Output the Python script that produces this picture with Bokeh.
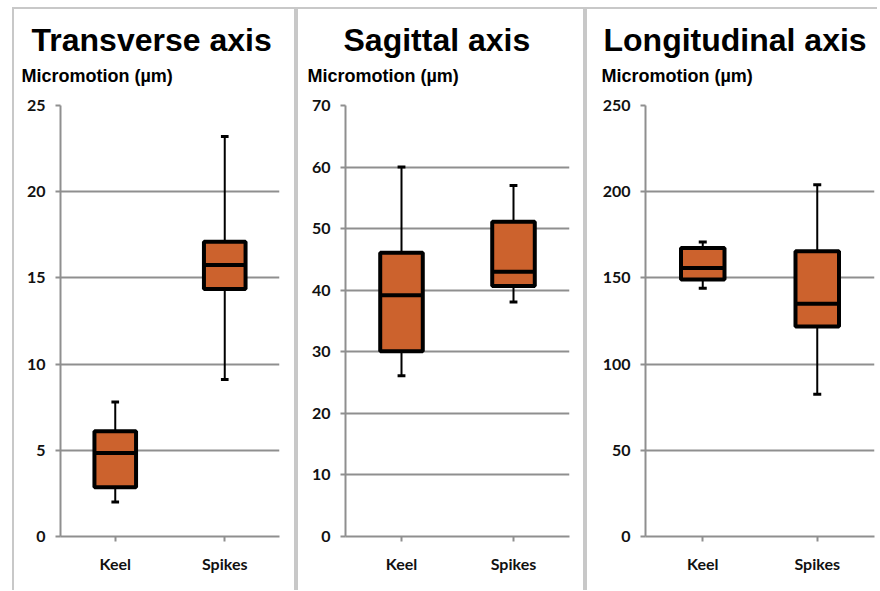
from bokeh.plotting import figure
from bokeh.models import Title, FixedTicker, ColumnDataSource, Range1d
from bokeh.transform import dodge
from bokeh.layouts import row
from bokeh.embed import file_html
from bokeh.resources import INLINE

categories = ["Keel", "Spikes"]

transverse_low = [2.0, 9.1]
transverse_q1 = [2.85, 14.35]
transverse_median = [4.85, 15.75]
transverse_q3 = [6.1, 17.1]
transverse_high = [7.8, 23.2]
transverse_ticks = [0, 5, 10, 15, 20, 25]

sagittal_low = [26.1, 38.1]
sagittal_q1 = [30.1, 40.7]
sagittal_median = [39.2, 43.0]
sagittal_q3 = [46.1, 51.1]
sagittal_high = [60.0, 57.0]
sagittal_ticks = [0, 10, 20, 30, 40, 50, 60, 70]

longitudinal_low = [144.0, 82.5]
longitudinal_q1 = [149.0, 121.8]
longitudinal_median = [155.8, 135.0]
longitudinal_q3 = [167.4, 165.5]
longitudinal_high = [170.8, 204.0]
longitudinal_ticks = [0, 50, 100, 150, 200, 250]

titles = ["Transverse axis", "Sagittal axis", "Longitudinal axis"]
y_title = "Micromotion (µm)"

BOX_FILL = "#CC622D"
GRID = "#8f8f8f"
BORDER = "#c8c8c8"
BOX_W = 0.38


def make_panel(title, low, q1, med, q3, high, ticks, width, mbl, mbr, mbt, mbb,
               title_off, sub_off, right_border=True):
    p = figure(x_range=categories, y_range=Range1d(ticks[0], ticks[-1]),
               width=width, height=583, output_backend="svg",
               toolbar_location=None, title=None,
               min_border_left=mbl, min_border_right=mbr,
               min_border_top=mbt, min_border_bottom=mbb)
    p.outline_line_color = None
    p.background_fill_color = "white"
    p.border_fill_color = "white"
    sides = {"border-top": f"2px solid {BORDER}", "border-left": f"2px solid {BORDER}"}
    if right_border:
        sides["border-right"] = f"2px solid {BORDER}"
    p.styles = sides

    src = ColumnDataSource(dict(cat=categories, low=low, q1=q1, med=med, q3=q3, high=high))

    # whiskers
    p.segment(x0="cat", y0="low", x1="cat", y1="q1", source=src, line_color="black", line_width=2)
    p.segment(x0="cat", y0="q3", x1="cat", y1="high", source=src, line_color="black", line_width=2)
    # caps
    p.segment(x0=dodge("cat", -0.035, range=p.x_range), y0="low",
              x1=dodge("cat", 0.035, range=p.x_range), y1="low",
              source=src, line_color="black", line_width=3)
    p.segment(x0=dodge("cat", -0.035, range=p.x_range), y0="high",
              x1=dodge("cat", 0.035, range=p.x_range), y1="high",
              source=src, line_color="black", line_width=3)
    # boxes
    p.vbar(x="cat", top="q3", bottom="q1", width=BOX_W, source=src,
           fill_color=BOX_FILL, line_color="black", line_width=4)
    # medians
    p.segment(x0=dodge("cat", -BOX_W / 2, range=p.x_range), y0="med",
              x1=dodge("cat", BOX_W / 2, range=p.x_range), y1="med",
              source=src, line_color="black", line_width=4)

    p.yaxis.ticker = FixedTicker(ticks=ticks)
    p.ygrid.ticker = FixedTicker(ticks=ticks)
    p.xgrid.grid_line_color = None
    p.ygrid.grid_line_color = GRID
    p.ygrid.grid_line_width = 2

    for ax in (p.xaxis[0], p.yaxis[0]):
        ax.axis_line_color = GRID
        ax.axis_line_width = 2
        ax.major_tick_line_color = GRID
        ax.major_tick_line_width = 2
        ax.major_tick_in = 0
        ax.major_tick_out = 5
        ax.minor_tick_line_color = None
        ax.major_label_text_font = "Lato"
        ax.major_label_text_font_size = "16px"
        ax.major_label_text_font_style = "bold"
        ax.major_label_text_color = "#111111"
    p.yaxis.major_label_standoff = 10
    p.xaxis.major_label_standoff = 12

    p.add_layout(Title(text=y_title, align="left", offset=sub_off,
                       text_font="Liberation Sans", text_font_size="18px",
                       text_font_style="bold", text_color="black", standoff=39), "above")
    p.add_layout(Title(text=title, align="left", offset=title_off,
                       text_font="Liberation Sans", text_font_size="32px",
                       text_font_style="bold", text_color="black", standoff=-27), "above")
    return p


p1 = make_panel(titles[0], transverse_low, transverse_q1, transverse_median, transverse_q3,
                transverse_high, transverse_ticks, 284, 46, 19, 95, 54, -29, -39)
p2 = make_panel(titles[1], sagittal_low, sagittal_q1, sagittal_median, sagittal_q3,
                sagittal_high, sagittal_ticks, 289, 47, 18, 95, 55, -2, -38)
p3 = make_panel(titles[2], longitudinal_low, longitudinal_q1, longitudinal_median,
                longitudinal_q3, longitudinal_high, longitudinal_ticks, 292, 58, 5, 96, 56,
                -42, -44, right_border=False)

layout = row(p1, p2, p3, spacing=0, margin=(7, 0, 0, 12))
open("out.html", "w").write(file_html(layout, INLINE))
